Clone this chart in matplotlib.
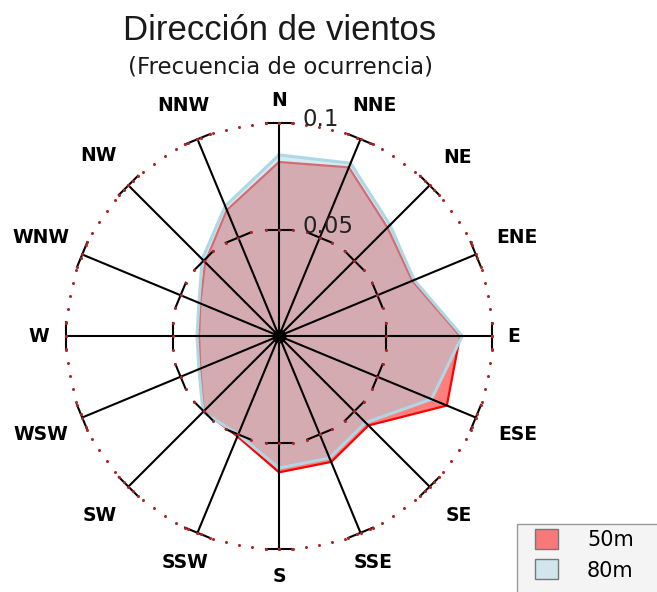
import numpy as np
import matplotlib
matplotlib.use('Agg')
import matplotlib.pyplot as plt
from matplotlib.patches import Patch, Rectangle

# datos: frecuencia de ocurrencia por direccion
directions = ['N', 'NNE', 'NE', 'ENE', 'E', 'ESE', 'SE', 'SSE',
              'S', 'SSW', 'SW', 'WSW', 'W', 'WNW', 'NW', 'NNW']
freq_50m = [0.0817, 0.0857, 0.0720, 0.0677, 0.0850, 0.0853, 0.0594, 0.0640,
            0.0640, 0.0510, 0.0500, 0.0400, 0.0375, 0.0400, 0.0490, 0.0640]
freq_80m = [0.0850, 0.0878, 0.0737, 0.0687, 0.0860, 0.0775, 0.0575, 0.0620,
            0.0620, 0.0500, 0.0505, 0.0407, 0.0385, 0.0407, 0.0510, 0.0660]
radial_ticks = [0.05, 0.1]
radial_labels = ['0.05', '0.1']
series_names = ['50m', '80m']

W, H = 657, 592
cx, cy, R = 279, 336, 213          # centro y radio del grafico en pixeles
rmax = 0.1
# distancia de las etiquetas al centro (pixeles)
label_px = [236, 250, 252, 258, 235, 258, 254, 245,
            241, 245, 254, 258, 240, 258, 255, 250]

fig = plt.figure(figsize=(W / 100, H / 100), dpi=100)
ax = fig.add_axes([(cx - R) / W, (H - cy - R) / H, 2 * R / W, 2 * R / H],
                  projection='polar')
ax.set_theta_zero_location('N')
ax.set_theta_direction(-1)
ax.set_ylim(0, rmax)
ax.axis('off')

theta = np.deg2rad(np.arange(len(directions)) * 22.5)
th_c = np.append(theta, theta[0])

red = (1, 0, 0)
blue = (173 / 255, 216 / 255, 230 / 255)

r50 = np.append(freq_50m, freq_50m[0])
ax.fill(th_c, r50, color=red, alpha=0.5, lw=0, zorder=2)
ax.plot(th_c, r50, color=red, lw=1.6, zorder=3)
r80 = np.append(freq_80m, freq_80m[0])
ax.fill(th_c, r80, color=blue, alpha=0.5, lw=0, zorder=4)
ax.plot(th_c, r80, color=blue, lw=2.2, zorder=5)

# ejes radiales
dotc = '#b02525'
d = 13.5 / R * rmax
for t in theta:
    ax.plot([t, t], [0, rmax], color='black', lw=1.5, zorder=6, clip_on=False)
    for r in radial_ticks:
        rr = np.hypot(r, d)
        dt = np.arctan(d / r)
        ax.plot([t - dt, t + dt], [rr, rr], color='black', lw=1.5,
                zorder=6, clip_on=False)
        ax.plot([t - dt, t, t + dt], [rr, r, rr], ls='none', marker='o',
                ms=2.2, color=dotc, mec='none', zorder=7, clip_on=False)

# circulo punteado exterior
ring = np.deg2rad(np.arange(0, 360, 3.6))
ax.plot(ring, np.full(ring.size, rmax), ls='none', marker='o', ms=2.2,
        color=dotc, mec='none', zorder=7, clip_on=False)
ax.plot(0, 0, 'o', color='black', ms=9, zorder=8, clip_on=False)

for r, lab in zip(radial_ticks, radial_labels):
    ax.annotate(lab, xy=(0, r), xytext=(24, 3), textcoords='offset pixels',
                ha='left', va='center', fontsize=16.5, color='#222222',
                zorder=9)

for t, name, px in zip(theta, directions, label_px):
    ax.text(t, px / R * rmax, name, ha='center', va='center',
            fontsize=13.5, fontweight='bold', family='DejaVu Sans')

fig.text(280 / W, 1 - 40 / H, 'Dirección de vientos', ha='center',
         va='baseline', fontsize=25, family=['Liberation Sans', 'DejaVu Sans'],
         color='#1a1a1a')
fig.text(280 / W, 1 - 74 / H, '(Frecuencia de ocurrencia)', ha='center',
         va='baseline', fontsize=16.5, color='#1a1a1a')

# leyenda
fig.add_artist(Rectangle((517 / W, -0.01), (W - 517) / W + 0.01,
                         (H - 524) / H + 0.01, transform=fig.transFigure,
                         facecolor='#f4f4f4', edgecolor='#999999', lw=1))
handles = [Patch(facecolor=red + (0.5,), edgecolor='#777777', lw=1),
           Patch(facecolor=blue + (0.5,), edgecolor='#777777', lw=1)]
fig.legend(handles, series_names, loc='upper left',
           bbox_to_anchor=(535 / W, 1 - 529 / H), frameon=False,
           borderpad=0, borderaxespad=0, fontsize=15, handlelength=1.1,
           handleheight=1.1, handletextpad=1.4, labelspacing=0.45)

fig.savefig('out.png', dpi=100)
